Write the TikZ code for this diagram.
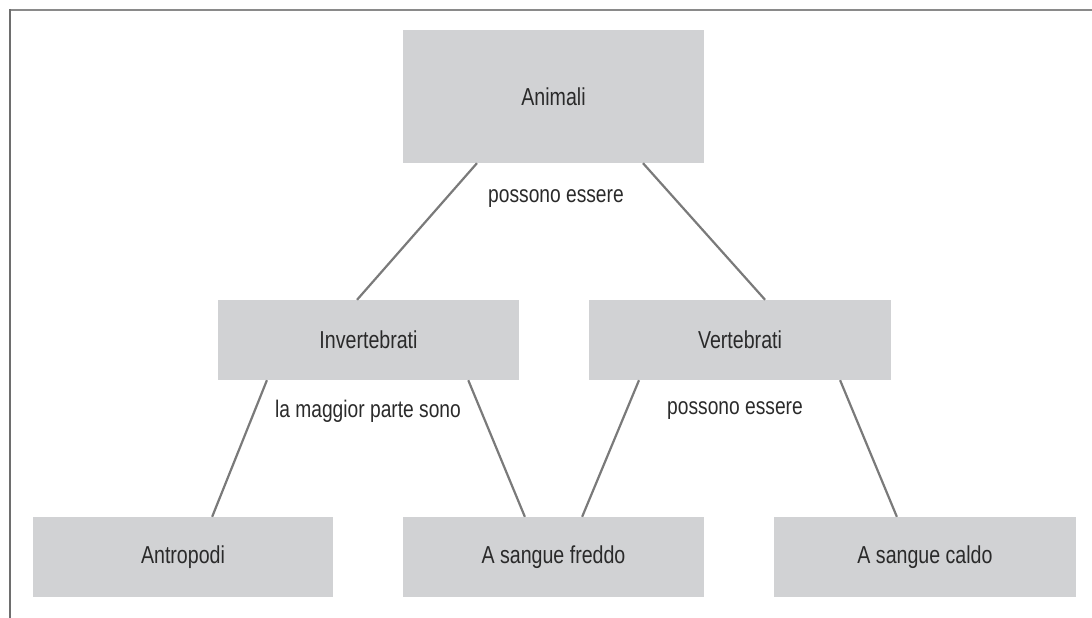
\documentclass[tikz,border=0pt]{standalone}
\usepackage{fontspec}
\setmainfont[FakeStretch=0.80]{Liberation Sans}
\usetikzlibrary{calc}
\definecolor{boxgray}{HTML}{D1D2D4}
\definecolor{linegray}{HTML}{7A7A7A}
\definecolor{framegray}{HTML}{8A8A8A}
\definecolor{txt}{HTML}{2A2A2A}
\tikzset{
  box/.style={fill=boxgray, draw=none, minimum height=80pt, inner sep=0pt, text=txt, font=\fontsize{24.5}{28}\selectfont},
  conn/.style={draw=linegray, line width=2.2pt},
  lbl/.style={text=txt, inner sep=0pt, font=\fontsize{24}{28}\selectfont}
}
\begin{document}
\begin{tikzpicture}[x=1pt,y=-1pt]
\useasboundingbox (0,0) rectangle (1092,618);
\draw[framegray, line width=2pt] (9,10) -- (1092,10);
\draw[framegray!80!black, line width=1.5pt] (10,9) -- (10,618);
\node[box, minimum width=301pt, minimum height=133pt] (anim) at (553.5,96.5) {Animali};
\node[box, minimum width=301pt] (inv) at (368.5,340) {Invertebrati};
\node[box, minimum width=302pt] (vert) at (740,340) {Vertebrati};
\node[box, minimum width=300pt] (antr) at (183,557) {Antropodi};
\node[box, minimum width=301pt] (fred) at (553.5,557) {A sangue freddo};
\node[box, minimum width=302pt] (cald) at (925,557) {A sangue caldo};
\node[lbl] (l1) at (556,199) {possono essere};
\node[lbl] (l2) at (368,411) {la maggior parte sono};
\node[lbl] (l3) at (735,411) {possono essere};
\draw[conn] ($(anim.south west)!0.246!(anim.south east)$) -- ($(inv.north west)!0.462!(inv.north east)$);
\draw[conn] ($(anim.south west)!0.797!(anim.south east)$) -- ($(vert.north west)!0.583!(vert.north east)$);
\draw[conn] ($(inv.south west)!0.163!(inv.south east)$) -- ($(antr.north west)!0.597!(antr.north east)$);
\draw[conn] ($(inv.south west)!0.831!(inv.south east)$) -- ($(fred.north west)!0.405!(fred.north east)$);
\draw[conn] ($(vert.south west)!0.166!(vert.south east)$) -- ($(fred.north west)!0.595!(fred.north east)$);
\draw[conn] ($(vert.south west)!0.831!(vert.south east)$) -- ($(cald.north west)!0.407!(cald.north east)$);
\end{tikzpicture}
\end{document}
